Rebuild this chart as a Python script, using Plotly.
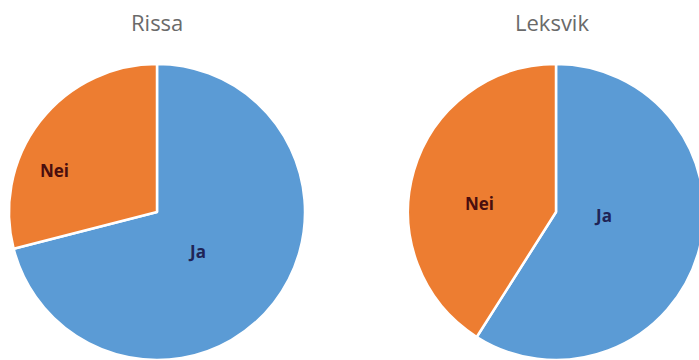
import plotly.graph_objects as go

categories = ["Ja", "Nei"]
rissa_values = [71, 29]
leksvik_values = [59, 41]
titles = ["Rissa", "Leksvik"]

colors = ["#5B9BD5", "#ED7D31"]
label_colors = {"Ja": "#1F2456", "Nei": "#4A0E0E"}

W, H = 706, 360
fig = go.Figure()
domains = [
    dict(x=[9 / W, 305 / W], y=[0, 296 / H]),
    dict(x=[408 / W, 704 / W], y=[0, 296 / H]),
]
for vals, dom in zip([rissa_values, leksvik_values], domains):
    fig.add_trace(go.Pie(
        labels=categories,
        values=vals,
        domain=dom,
        sort=False,
        direction="clockwise",
        rotation=0,
        marker=dict(colors=colors, line=dict(color="white", width=2.5)),
        textinfo="none",
        showlegend=False,
        hoverinfo="label+percent",
    ))

# slice label positions (pixels) for each chart
label_pos = [
    {"Nei": (54, 170), "Ja": (197, 252)},
    {"Nei": (479, 203), "Ja": (603, 215)},
]
for pos in label_pos:
    for cat in categories:
        x, y = pos[cat]
        fig.add_annotation(text="<b>%s</b>" % cat, x=x / W, y=1 - y / H,
                           xref="paper", yref="paper", showarrow=False,
                           xanchor="center", yanchor="middle",
                           font=dict(family="Open Sans", size=17, color=label_colors[cat]))

title_x = [157, 552]
for t, x in zip(titles, title_x):
    fig.add_annotation(text=t, x=x / W, y=1 - 22 / H, xref="paper", yref="paper",
                       showarrow=False, xanchor="center", yanchor="middle",
                       font=dict(family="Open Sans", size=22, color="#6A6A6A"))

fig.update_layout(width=W, height=H, margin=dict(l=0, r=0, t=0, b=0),
                  paper_bgcolor="white", plot_bgcolor="white")
fig.write_html("out.html", config={"displayModeBar": False},
               post_script="document.body.style.margin='0';document.body.style.overflow='hidden';")
